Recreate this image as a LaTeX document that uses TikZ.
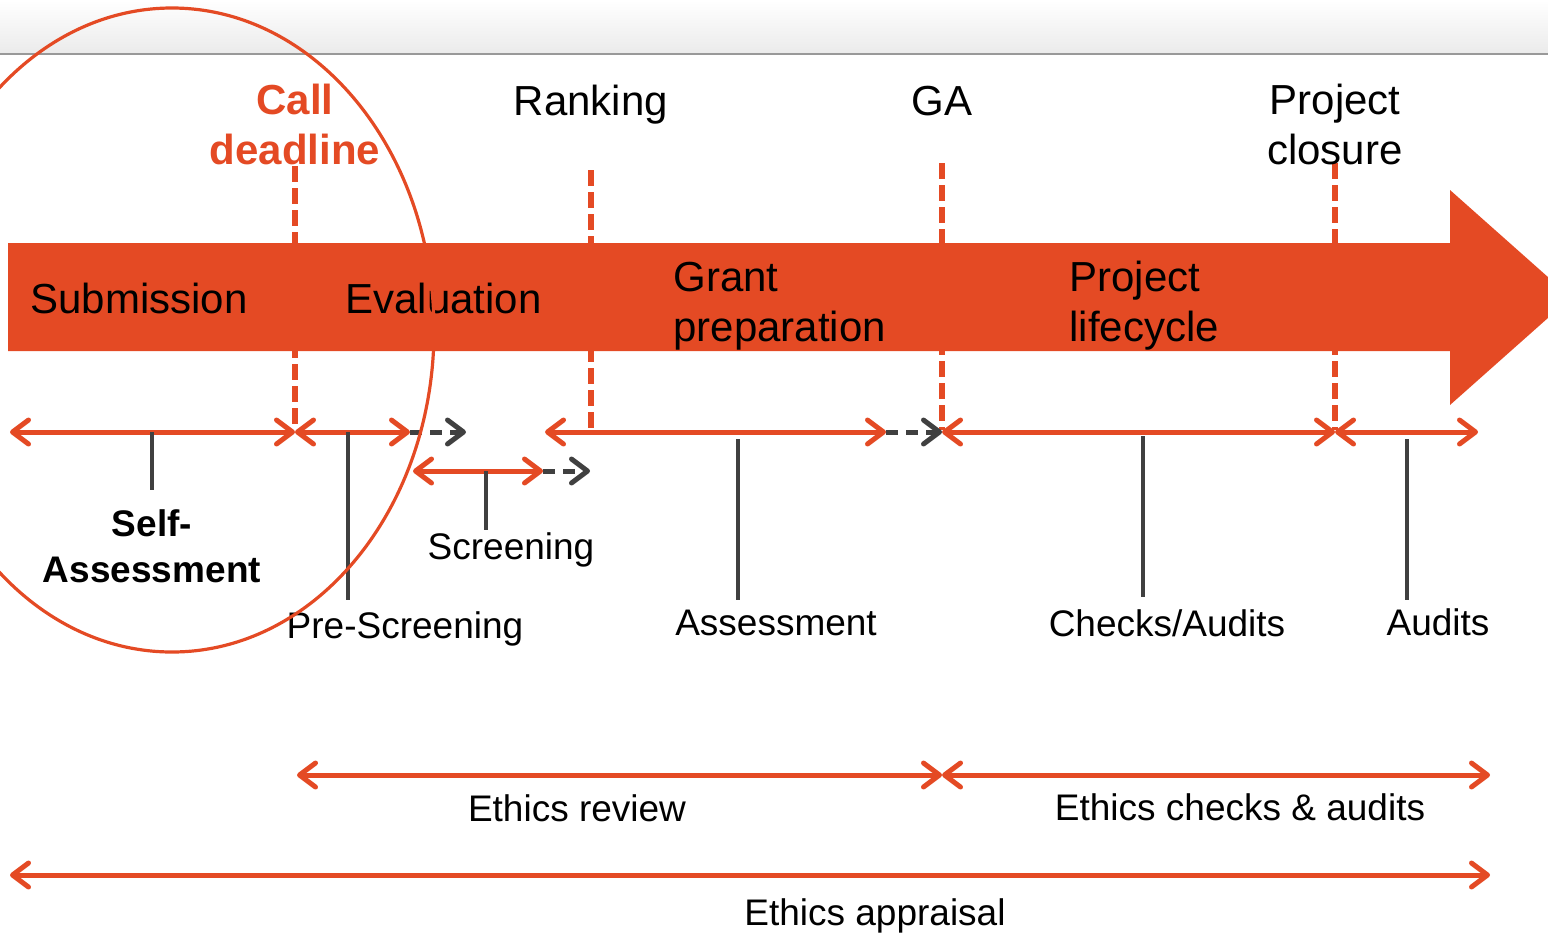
\documentclass[tikz,border=0pt]{standalone}
\usepackage{fontspec}
\setmainfont{Liberation Sans}
\usetikzlibrary{arrows.meta}
\definecolor{orr}{RGB}{228,74,36}
\definecolor{dgray}{RGB}{64,64,64}
\begin{document}
\begin{tikzpicture}[x=0.5pt,y=-0.5pt,
  bartip/.tip={Straight Barb[length=8pt,width=12pt,round]},
  spanarr/.style={draw=orr,line width=2.5pt,bartip-bartip},
  contarr/.style={draw=dgray,line width=2.5pt,dash pattern=on 6pt off 4pt,-bartip},
  stemline/.style={draw=dgray,line width=1.6pt},
  msline/.style={draw=orr,line width=2.6pt,dash pattern=on 8pt off 3pt},
  bigtxt/.style={font=\fontsize{21}{25}\selectfont,inner sep=0pt},
  smalltxt/.style={font=\fontsize{18.5}{23}\selectfont,inner sep=0pt},
]
\useasboundingbox (0,0) rectangle (1548,933);
\clip (0,0) rectangle (1548,933);
% top band
\shade[top color=white,bottom color=black!8] (0,0) rectangle (1548,54);
\draw[black!40,line width=1pt] (0,54) -- (1548,54);

% milestone markers
\coordinate (m1t) at (295,166); \coordinate (m1b) at (295,430);
\coordinate (m2t) at (591,170); \coordinate (m2b) at (591,430);
\coordinate (m3t) at (942,163); \coordinate (m3b) at (942,430);
\coordinate (m4t) at (1335,163); \coordinate (m4b) at (1335,430);
\draw[msline] (m1t) -- (m1b);
\draw[msline] (m2t) -- (m2b);
\draw[msline] (m3t) -- (m3b);
\draw[msline] (m4t) -- (m4b);

% big arrow
\fill[orr] (8,243) -- (1450,243) -- (1450,190) -- (1571,297.5) -- (1450,405) -- (1450,351) -- (8,351) -- cycle;

\node[bigtxt,anchor=base west] (sub) at (30,313) {Submission};
\node[bigtxt,anchor=base west] (eva) at (345,313) {Evaluation};
\node[bigtxt,anchor=west,align=left] (gp) at (673,306) {Grant\\preparation};
\node[bigtxt,anchor=west,align=left] (pl) at (1069,306) {Project\\lifecycle};

% top labels
\node[bigtxt,align=center,text=orr,font=\fontsize{21}{25}\selectfont\bfseries] (cd) at (295,124) {Call\\deadline};
\node[bigtxt,anchor=base] (rk) at (591,115) {Ranking};
\node[bigtxt,anchor=base] (ga) at (942,115) {GA};
\node[bigtxt,align=center] (pc) at (1335,124) {Project\\closure};

% row 1 spans
\coordinate (a0) at (10,432);
\coordinate (a1) at (295,432);
\coordinate (a2) at (410,432);
\coordinate (a2d) at (466,432);
\coordinate (a3) at (545,432);
\coordinate (a4) at (886,432);
\coordinate (a5) at (942,432);
\coordinate (a6) at (1335,432);
\coordinate (a7) at (1478,432);
\draw[spanarr] (a0) -- (a1);
\draw[spanarr] (a1) -- (a2);
\draw[contarr] (a2) -- (a2d);
\draw[spanarr] (a3) -- (a4);
\draw[contarr] (a4) -- (a5);
\draw[spanarr] (a5) -- (a6);
\draw[spanarr] (a6) -- (a7);
% row 2
\coordinate (b0) at (413,471);
\coordinate (b1) at (543,471);
\coordinate (b1d) at (590,471);
\draw[spanarr] (b0) -- (b1);
\draw[contarr] (b1) -- (b1d);

% labels and stems
\node[smalltxt,align=center,font=\fontsize{18.5}{23}\selectfont\bfseries] (sa) at (152,546) {Self-\\Assessment};
\node[smalltxt,anchor=base] (ps) at (405,638) {Pre-Screening};
\node[smalltxt,anchor=base] (sc) at (511,559) {Screening};
\node[smalltxt,anchor=base] (as) at (776,635) {Assessment};
\node[smalltxt,anchor=base] (ca) at (1167,636) {Checks/Audits};
\node[smalltxt,anchor=base] (au) at (1438,635) {Audits};

\coordinate (s1t) at (152,432); \coordinate (s1b) at (152,490);
\coordinate (s2t) at (348,432); \coordinate (s2b) at (348,600);
\coordinate (s3t) at (486,471); \coordinate (s3b) at (486,530);
\coordinate (s4t) at (738,439); \coordinate (s4b) at (738,600);
\coordinate (s5t) at (1143,436); \coordinate (s5b) at (1143,597);
\coordinate (s6t) at (1407,439); \coordinate (s6b) at (1407,600);
\draw[stemline] (s1t) -- (s1b);
\draw[stemline] (s2t) -- (s2b);
\draw[stemline] (s3t) -- (s3b);
\draw[stemline] (s4t) -- (s4b);
\draw[stemline] (s5t) -- (s5b);
\draw[stemline] (s6t) -- (s6b);

% ethics spans
\coordinate (e0) at (297,775);
\coordinate (e1) at (942,775);
\coordinate (e2) at (1490,775);
\coordinate (f0) at (10,875);
\coordinate (f1) at (1490,875);
\draw[spanarr] (e0) -- (e1);
\draw[spanarr] (e1) -- (e2);
\draw[spanarr] (f0) -- (f1);
\node[smalltxt,anchor=base] (er) at (577,821) {Ethics review};
\node[smalltxt,anchor=base] (ec) at (1240,820) {Ethics checks \& audits};
\node[smalltxt,anchor=base] (ea) at (875,925) {Ethics appraisal};

% highlight ellipse
\draw[orr,line width=1.6pt] (172,330) ellipse [x radius=262, y radius=322];
\end{tikzpicture}
\end{document}
